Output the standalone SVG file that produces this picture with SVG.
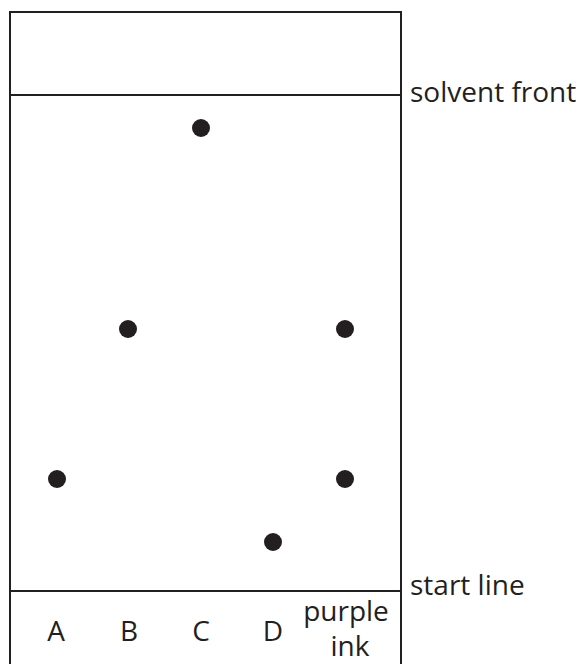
<svg xmlns="http://www.w3.org/2000/svg" width="582" height="664" viewBox="0 0 582 664">
<style>
.ln{stroke:#231f20;stroke-width:2;fill:none}
.dot{fill:#231f20}
text{font-family:"Open Sans","Liberation Sans",sans-serif;font-size:28px;fill:#231f20}
.c{text-anchor:middle}
</style>
<rect width="582" height="664" fill="#fff"/>
<g id="paper">
<path class="ln" d="M10,670 V12 H401 V670"/>
<line class="ln" x1="10" y1="95" x2="401" y2="95"/>
<line class="ln" x1="10" y1="591" x2="401" y2="591"/>
</g>
<g id="spots">
<circle class="dot" cx="201" cy="128" r="9"/>
<circle class="dot" cx="128" cy="329" r="9"/>
<circle class="dot" cx="345" cy="329" r="9"/>
<circle class="dot" cx="57" cy="479" r="9"/>
<circle class="dot" cx="345" cy="479" r="9"/>
<circle class="dot" cx="273" cy="542" r="9"/>
</g>
<g id="labels">
<text x="410" y="102">solvent front</text>
<text x="410" y="595">start line</text>
<text class="c" x="56" y="641">A</text>
<text class="c" x="129" y="641">B</text>
<text class="c" x="201" y="641">C</text>
<text class="c" x="273" y="641">D</text>
<text class="c" x="346" y="621">purple</text>
<text class="c" x="350" y="656">ink</text>
</g>
</svg>
